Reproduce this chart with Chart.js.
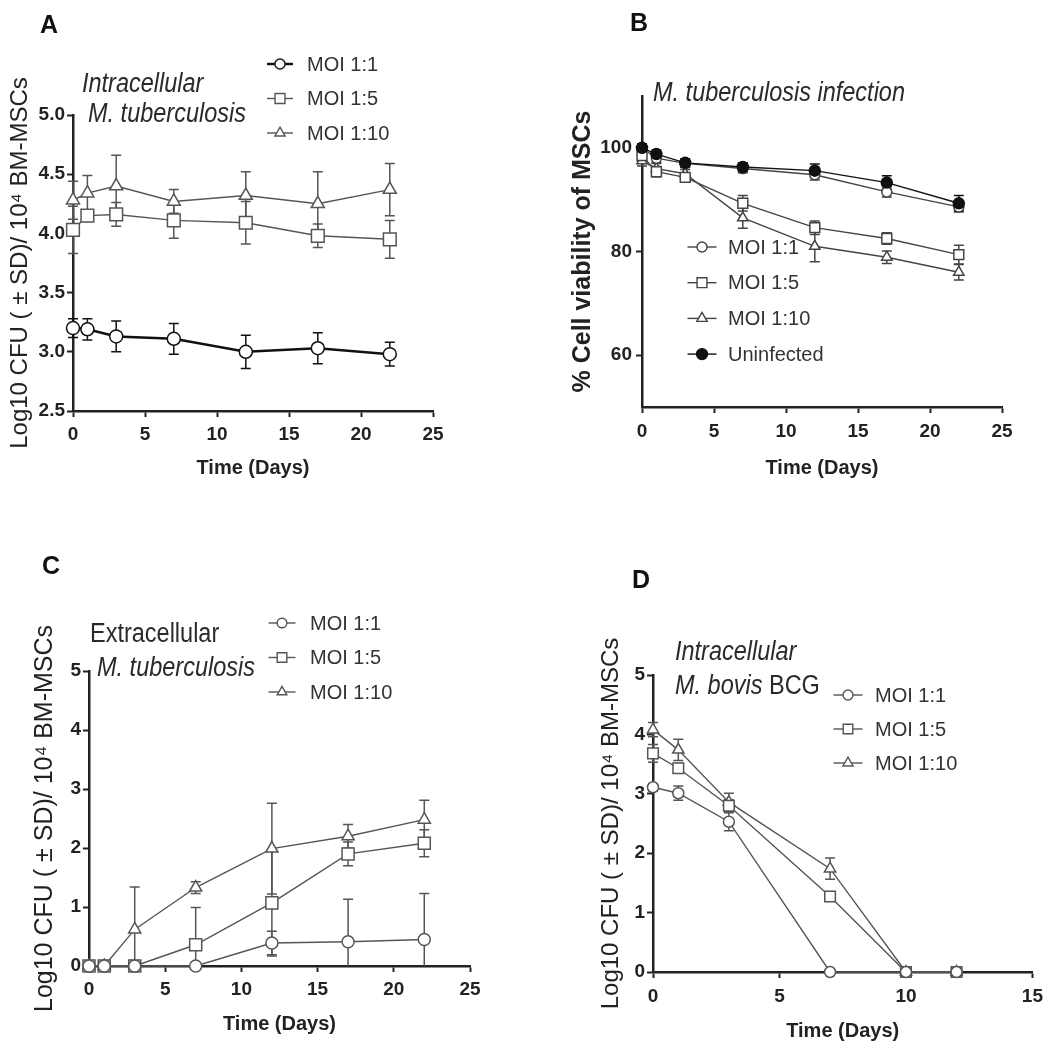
<!DOCTYPE html>
<html>
<head>
<meta charset="utf-8">
<script src="https://cdn.jsdelivr.net/npm/chart.js@4.4.1/dist/chart.umd.min.js"></script>
<style>
body { margin: 0; background: #fff; }
#wrap { position: relative; width: 1050px; height: 1050px; overflow: hidden; background: #fff; }
canvas { position: absolute; }
.lbl { position: absolute; font-family: "Liberation Sans", Arial, sans-serif; font-weight: bold; font-size: 25px; line-height: 25px; color: #111; }
.note { position: absolute; font-family: "Liberation Sans", Arial, sans-serif; font-size: 27px; line-height: 28px; color: #2a2a2a; white-space: nowrap; transform: scaleX(0.87); transform-origin: left center; }
</style>
</head>
<body>
<div id="wrap">
  <canvas id="cA" width="520" height="500" style="left:0;top:0"></canvas>
  <canvas id="cB" width="530" height="500" style="left:520px;top:0"></canvas>
  <canvas id="cC" width="520" height="530" style="left:0;top:520px"></canvas>
  <canvas id="cD" width="530" height="530" style="left:520px;top:520px"></canvas>

  <div class="lbl" style="left:40px;top:12px">A</div>
  <div class="lbl" style="left:630px;top:10px">B</div>
  <div class="lbl" style="left:42px;top:553px">C</div>
  <div class="lbl" style="left:632px;top:567px">D</div>

  <div class="note" style="left:82px;top:69px"><i>Intracellular</i></div>
  <div class="note" style="left:88px;top:99px"><i>M. tuberculosis</i></div>
  <div class="note" style="left:653px;top:78px"><i>M. tuberculosis infection</i></div>
  <div class="note" style="left:90px;top:619px">Extracellular</div>
  <div class="note" style="left:97px;top:653px"><i>M. tuberculosis</i></div>
  <div class="note" style="left:675px;top:637px"><i>Intracellular</i></div>
  <div class="note" style="left:675px;top:671px"><i>M. bovis</i> BCG</div>
</div>
<script>
// ---- data ----
const labels = ['MOI 1:1', 'MOI 1:5', 'MOI 1:10'];
const labelUninf = 'Uninfected';
const xTitle = 'Time (Days)';
const cfuTitle = 'Log10 CFU ( \u00b1 SD)/ 10\u2074 BM-MSCs';
const viabTitle = '% Cell viability of MSCs';

// A: intracellular M. tuberculosis
const daysA = [0, 1, 3, 7, 12, 17, 22];
const aMoi1 = [3.20, 3.19, 3.13, 3.11, 3.00, 3.03, 2.98];
const aMoi1Sd = [0.08, 0.09, 0.13, 0.13, 0.14, 0.13, 0.10];
const aMoi5 = [4.03, 4.15, 4.16, 4.11, 4.09, 3.98, 3.95];
const aMoi5Sd = [0.20, 0.05, 0.10, 0.15, 0.18, 0.10, 0.16];
const aMoi10 = [4.28, 4.34, 4.40, 4.27, 4.32, 4.25, 4.37];
const aMoi10Sd = [0.16, 0.15, 0.26, 0.10, 0.20, 0.27, 0.22];
const aXTicks = [0, 5, 10, 15, 20, 25];
const aYTicks = [2.5, 3.0, 3.5, 4.0, 4.5, 5.0];

// B: cell viability
const daysB = [0, 1, 3, 7, 12, 17, 22];
const bMoi1 = [100, 98, 97, 96, 94.8, 91.5, 88.6];
const bMoi1Sd = [0.8, 0.8, 0.8, 0.8, 1.0, 1.0, 1.0];
const bMoi5 = [98.5, 95.4, 94.3, 89.3, 84.6, 82.5, 79.4];
const bMoi5Sd = [1.0, 1.0, 0.8, 1.5, 1.3, 1.1, 1.8];
const bMoi10 = [97.5, 96, 95, 86.5, 81, 78.9, 76];
const bMoi10Sd = [1.0, 1.0, 0.8, 2.0, 3.0, 1.2, 1.5];
const bUninf = [100, 98.8, 97.1, 96.3, 95.6, 93.3, 89.3];
const bUninfSd = [0.8, 0.8, 0.8, 0.8, 1.3, 1.3, 1.5];
const bXTicks = [0, 5, 10, 15, 20, 25];
const bYTicks = [60, 80, 100];

// C: extracellular M. tuberculosis
const daysC = [0, 1, 3, 7, 12, 17, 22];
const cMoi1 = [0, 0, 0, 0, 0.39, 0.41, 0.45];
const cMoi1Sd = [0, 0, 0, 0, 0.2, 0.72, 0.78];
const cMoi5 = [0, 0, 0, 0.36, 1.07, 1.90, 2.08];
const cMoi5Sd = [0, 0, 0, 0.63, 0.9, 0.2, 0.23];
const cMoi10 = [0, 0, 0.62, 1.33, 1.99, 2.20, 2.48];
const cMoi10Sd = [0, 0, 0.72, 0.1, 0.77, 0.2, 0.33];
const cXTicks = [0, 5, 10, 15, 20, 25];
const cYTicks = [0, 1, 2, 3, 4, 5];

// D: intracellular M. bovis BCG
const daysD = [0, 1, 3, 7, 10, 12];
const dMoi1 = [3.11, 3.01, 2.53, 0, 0, 0];
const dMoi1Sd = [0.06, 0.12, 0.15, 0, 0, 0];
const dMoi5 = [3.68, 3.43, 2.80, 1.27, 0, 0];
const dMoi5Sd = [0.15, 0.08, 0.10, 0.05, 0, 0];
const dMoi10 = [4.08, 3.74, 2.86, 1.74, 0, 0];
const dMoi10Sd = [0.12, 0.18, 0.15, 0.18, 0, 0];
const dXTicks = [0, 5, 10, 15];
const dYTicks = [0, 1, 2, 3, 4, 5];

// ---- styling ----
const INK = '#222';
const GREY = '#555';
const SANS = '"Liberation Sans", Arial, sans-serif';

// error bars drawn under the lines, clipped at the axes like the original
const errorBars = {
  id: 'errorBars',
  beforeDatasetsDraw(chart) {
    const { ctx, scales: { x, y } } = chart;
    ctx.save();
    chart.data.datasets.forEach(ds => {
      if (!ds.sd) return;
      ctx.strokeStyle = ds.borderColor;
      ctx.lineWidth = 1.5;
      ds.data.forEach((p, i) => {
        const e = ds.sd[i];
        if (!e) return;
        const px = x.getPixelForValue(p.x);
        const hi = Math.min(p.y + e, y.max), lo = Math.max(p.y - e, y.min);
        const yh = y.getPixelForValue(hi), yl = y.getPixelForValue(lo);
        ctx.beginPath();
        ctx.moveTo(px, yh); ctx.lineTo(px, yl);
        if (hi === p.y + e) { ctx.moveTo(px - 5, yh); ctx.lineTo(px + 5, yh); }
        if (lo === p.y - e) { ctx.moveTo(px - 5, yl); ctx.lineTo(px + 5, yl); }
        ctx.stroke();
      });
    });
    ctx.restore();
  }
};

// legend with a short line through the marker
const lineLegend = {
  id: 'lineLegend',
  afterDraw(chart, args, o) {
    const ctx = chart.ctx;
    ctx.save();
    chart.data.datasets.forEach((ds, i) => {
      const y = o.y + i * o.dy;
      ctx.strokeStyle = ds.borderColor;
      ctx.lineWidth = ds.borderWidth;
      ctx.beginPath();
      ctx.moveTo(o.x - o.half, y); ctx.lineTo(o.x + o.half, y);
      ctx.stroke();
      ctx.fillStyle = ds.pointBackgroundColor;
      ctx.strokeStyle = ds.pointBorderColor;
      ctx.lineWidth = 1.4;
      Chart.helpers.drawPoint(ctx, { pointStyle: ds.pointStyle, radius: ds.pointRadius * o.scale, rotation: 0, borderWidth: 1.4 }, o.x, y);
      ctx.fillStyle = '#333';
      ctx.font = '20px ' + SANS;
      ctx.textBaseline = 'middle';
      ctx.fillText(ds.label, o.textX, y + 1);
    });
    ctx.restore();
  }
};

function series(label, days, values, sd, st) {
  return {
    label: label,
    data: days.map((d, i) => ({ x: d, y: values[i] })),
    sd: sd,
    borderColor: st.color || GREY,
    borderWidth: st.lw || 1.4,
    pointStyle: st.shape,
    pointRadius: st.r,
    pointBorderWidth: 1.5,
    pointBackgroundColor: st.fill || '#fff',
    pointBorderColor: st.color || GREY,
    tension: 0,
    clip: false,
    order: st.order || 0
  };
}

function panel(id, datasets, c) {
  const tickFont = { family: SANS, size: 19, weight: 'bold' };
  return new Chart(document.getElementById(id), {
    type: 'line',
    data: { datasets: datasets },
    plugins: [errorBars, lineLegend],
    options: {
      responsive: false,
      animation: false,
      devicePixelRatio: 1,
      layout: { padding: { top: c.top, right: c.right, left: 0, bottom: 0 } },
      plugins: {
        legend: { display: false },
        tooltip: { enabled: false },
        lineLegend: c.legend
      },
      scales: {
        x: {
          type: 'linear', min: c.xMin, max: c.xMax,
          afterBuildTicks: s => { s.ticks = c.xTicks.map(v => ({ value: v })); },
          afterFit: s => { s.height = c.xH; },
          border: { display: true, color: INK, width: 2.5 },
          grid: { display: true, drawOnChartArea: false, drawTicks: true, tickLength: 6, tickWidth: 2, tickColor: INK, color: INK },
          ticks: { color: INK, font: tickFont, padding: c.xTickPad, maxRotation: 0, autoSkip: false },
          title: { display: true, text: xTitle, color: INK, font: { family: SANS, size: 20, weight: 'bold' }, padding: { top: 0, bottom: c.xTitlePad } }
        },
        y: {
          type: 'linear', min: c.yMin, max: c.yMax,
          afterBuildTicks: s => { s.ticks = c.yTicks.map(v => ({ value: v })); },
          afterFit: s => { s.width = c.yW; },
          border: { display: true, color: INK, width: 2.5 },
          grid: { display: true, drawOnChartArea: false, drawTicks: true, tickLength: 6, tickWidth: 2, tickColor: INK, color: INK },
          ticks: { color: INK, font: tickFont, padding: c.yTickPad, autoSkip: false, callback: v => v.toFixed(c.yDec) },
          title: { display: true, text: c.yTitle, color: INK, font: c.yTitleFont, padding: { top: c.yTitlePad, bottom: 0 } }
        }
      }
    }
  });
}

const cfuFont = { family: SANS, size: 24, weight: 'normal' };

panel('cA', [
  series(labels[0], daysA, aMoi1, aMoi1Sd, { shape: 'circle', r: 6.5, color: '#111', lw: 2.5 }),
  series(labels[1], daysA, aMoi5, aMoi5Sd, { shape: 'rect', r: 9 }),
  series(labels[2], daysA, aMoi10, aMoi10Sd, { shape: 'triangle', r: 7.5 })
], {
  top: 115, right: 87, xH: 89, yW: 73,
  xMin: 0, xMax: 25, yMin: 2.5, yMax: 5.0, xTicks: aXTicks, yTicks: aYTicks, yDec: 1,
  xTitlePad: 20, xTickPad: 6, yTitle: cfuTitle, yTitleFont: cfuFont, yTitlePad: 6, yTickPad: 2,
  legend: { x: 280, y: 64, dy: 34.5, half: 13, textX: 307, scale: 0.78 }
});

panel('cB', [
  series(labels[0], daysB, bMoi1, bMoi1Sd, { shape: 'circle', r: 5, color: '#444' }),
  series(labels[1], daysB, bMoi5, bMoi5Sd, { shape: 'rect', r: 7, color: '#444' }),
  series(labels[2], daysB, bMoi10, bMoi10Sd, { shape: 'triangle', r: 6, color: '#444' }),
  series(labelUninf, daysB, bUninf, bUninfSd, { shape: 'circle', r: 5.5, color: '#111', fill: '#111', order: -1 })
], {
  top: 96, right: 48, xH: 93, yW: 122,
  xMin: 0, xMax: 25, yMin: 50, yMax: 110, xTicks: bXTicks, yTicks: bYTicks, yDec: 0,
  xTitlePad: 20, xTickPad: 7, yTitle: viabTitle, yTitleFont: { family: SANS, size: 25, weight: 'bold' }, yTitlePad: 48, yTickPad: 4,
  legend: { x: 182, y: 247, dy: 35.7, half: 14.5, textX: 208, scale: 1.0 }
});

panel('cC', [
  series(labels[0], daysC, cMoi1, cMoi1Sd, { shape: 'circle', r: 6 }),
  series(labels[1], daysC, cMoi5, cMoi5Sd, { shape: 'rect', r: 8.5 }),
  series(labels[2], daysC, cMoi10, cMoi10Sd, { shape: 'triangle', r: 7 })
], {
  top: 151, right: 50, xH: 84, yW: 89,
  xMin: 0, xMax: 25, yMin: 0, yMax: 5, xTicks: cXTicks, yTicks: cYTicks, yDec: 0,
  xTitlePad: 14, xTickPad: 6, yTitle: cfuTitle, yTitleFont: { family: SANS, size: 25, weight: 'normal' }, yTitlePad: 30, yTickPad: 2,
  legend: { x: 282, y: 103, dy: 34.5, half: 13.5, textX: 310, scale: 0.8 }
});

panel('cD', [
  series(labels[0], daysD, dMoi1, dMoi1Sd, { shape: 'circle', r: 5.5 }),
  series(labels[1], daysD, dMoi5, dMoi5Sd, { shape: 'rect', r: 7.5 }),
  series(labels[2], daysD, dMoi10, dMoi10Sd, { shape: 'triangle', r: 6.5 })
], {
  top: 155, right: 17, xH: 78, yW: 133,
  xMin: 0, xMax: 15, yMin: 0, yMax: 5, xTicks: dXTicks, yTicks: dYTicks, yDec: 0,
  xTitlePad: 7, xTickPad: 7, yTitle: cfuTitle, yTitleFont: cfuFont, yTitlePad: 77, yTickPad: 2,
  legend: { x: 328, y: 175, dy: 34, half: 14.5, textX: 355, scale: 0.9 }
});
</script>
</body>
</html>
